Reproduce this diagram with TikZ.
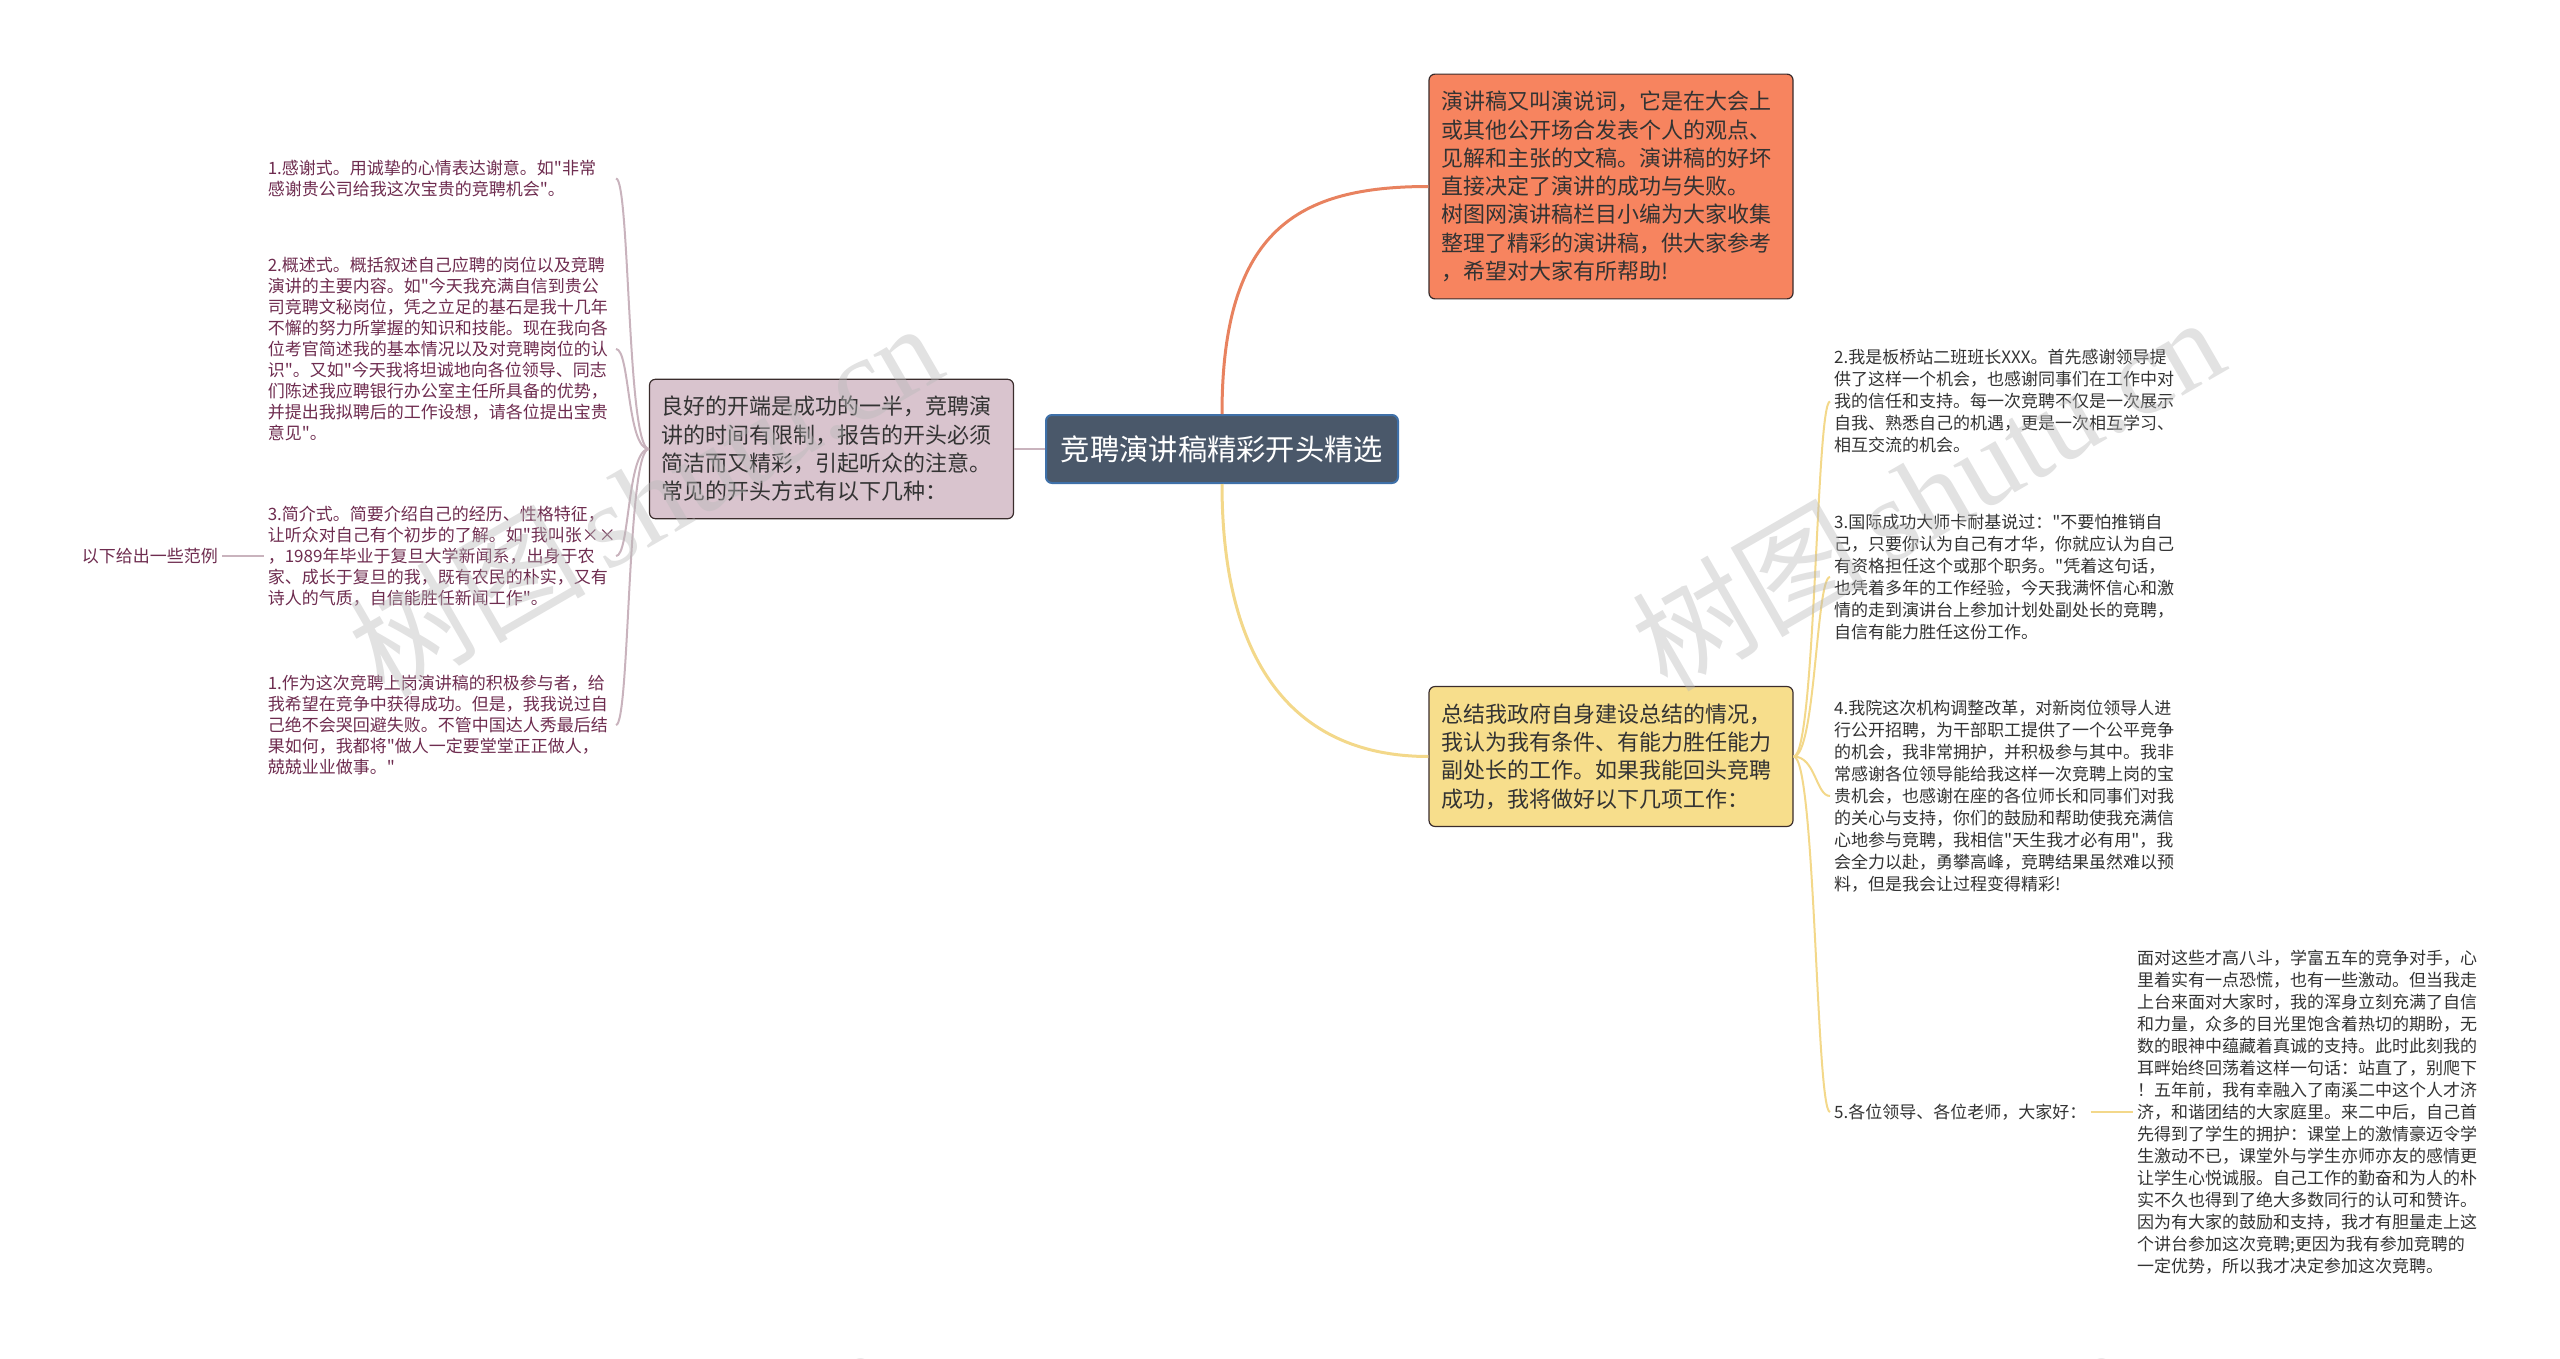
\documentclass[tikz,border=0pt]{standalone}
\usepackage{fontspec}
\newfontfamily\cjkfont{Noto Sans CJK SC}
\newfontfamily\wmlatin{Liberation Serif}
\usetikzlibrary{calc}
\definecolor{rootfill}{HTML}{4A586A}
\definecolor{rootline}{HTML}{3F70A8}
\definecolor{orangefill}{HTML}{F7845F}
\definecolor{orangeline}{HTML}{E8825F}
\definecolor{pinkfill}{HTML}{D9C4CE}
\definecolor{pinkline}{HTML}{C9B3BD}
\definecolor{yellowfill}{HTML}{F7DE8C}
\definecolor{yellowline}{HTML}{F3D88A}
\definecolor{topicedge}{HTML}{3A2C2C}
\definecolor{leafpink}{HTML}{6E2C4F}
\definecolor{leafgrey}{HTML}{333333}

\begin{document}
\begin{tikzpicture}[x=1pt,y=-1pt,
    roottopic/.style={draw=rootline,line width=2pt,fill=rootfill,rounded corners=6pt,
      text=white,font=\cjkfont\fontsize{29.3}{35}\selectfont,minimum width=352pt,minimum height=68pt},
    maintopic/.style={draw=topicedge,line width=1.2pt,fill=#1,rounded corners=6pt,
      text=black!80,align=left,text width=340pt,inner xsep=12pt,inner ysep=17pt,
      font=\cjkfont\fontsize{22}{28.3}\selectfont},
    leaf/.style={align=left,inner sep=4pt,text=#1},
    leftleaf/.style={leaf=leafpink,text width=344pt,anchor=east,font=\cjkfont\fontsize{17}{21}\selectfont},
    rightleaf/.style={leaf=leafgrey,text width=344pt,anchor=west,font=\cjkfont\fontsize{17}{22}\selectfont},
    branch/.style={draw=#1,line width=3pt},
    fan/.style={draw=#1,line width=2pt},
    watermark/.style={text=gray!55,opacity=0.42,rotate=30,font=\cjkfont\fontsize{118}{118}\selectfont}]
  \useasboundingbox (0,0) rectangle (2560,1359);

  % centre and the three main topics
  \node[roottopic] (root) at (1222,449) {竞聘演讲稿精彩开头精选};
  \node[maintopic=orangefill] (intro) at (1611,186.5) {演讲稿又叫演说词，它是在大会上\\或其他公开场合发表个人的观点、\\见解和主张的文稿。演讲稿的好坏\\直接决定了演讲的成功与失败。\\树图网演讲稿栏目小编为大家收集\\整理了精彩的演讲稿，供大家参考\\，希望对大家有所帮助!};
  \node[maintopic=pinkfill] (opening) at (831.5,449) {良好的开端是成功的一半，竞聘演\\讲的时间有限制，报告的开头必须\\简洁而又精彩，引起听众的注意。\\常见的开头方式有以下几种：};
  \node[maintopic=yellowfill] (summary) at (1611,756.5) {总结我政府自身建设总结的情况，\\我认为我有条件、有能力胜任能力\\副处长的工作。如果我能回头竞聘\\成功，我将做好以下几项工作：};

  % left branch
  \node[leftleaf] (thanks) at (616,178.5) {1.感谢式。用诚挚的心情表达谢意。如"非常\\感谢贵公司给我这次宝贵的竞聘机会"。};
  \node[leftleaf] (outline) at (616,349) {2.概述式。概括叙述自己应聘的岗位以及竞聘\\演讲的主要内容。如"今天我充满自信到贵公\\司竞聘文秘岗位，凭之立足的基石是我十几年\\不懈的努力所掌握的知识和技能。现在我向各\\位考官简述我的基本情况以及对竞聘岗位的认\\识"。又如"今天我将坦诚地向各位领导、同志\\们陈述我应聘银行办公室主任所具备的优势，\\并提出我拟聘后的工作设想，请各位提出宝贵\\意见"。};
  \node[leftleaf] (profile) at (616,556) {3.简介式。简要介绍自己的经历、性格特征，\\让听众对自己有个初步的了解。如"我叫张××\\，1989年毕业于复旦大学新闻系，出身于农\\家、成长于复旦的我，既有农民的朴实，又有\\诗人的气质，自信能胜任新闻工作"。};
  \node[leftleaf] (attitude) at (616,725) {1.作为这次竞聘上岗演讲稿的积极参与者，给\\我希望在竞争中获得成功。但是，我我说过自\\己绝不会哭回避失败。不管中国达人秀最后结\\果如何，我都将"做人一定要堂堂正正做人，\\兢兢业业做事。"};
  \node[leaf=leafpink,anchor=east,font=\cjkfont\fontsize{17}{21}\selectfont] (examples) at (222,556) {以下给出一些范例};

  % right branch
  \node[rightleaf] (monitor) at (1830,401.5) {2.我是板桥站二班班长XXX。首先感谢领导提\\供了这样一个机会，也感谢同事们在工作中对\\我的信任和支持。每一次竞聘不仅是一次展示\\自我、熟悉自己的机遇，更是一次相互学习、\\相互交流的机会。};
  \node[rightleaf] (carnegie) at (1830,577) {3.国际成功大师卡耐基说过："不要怕推销自\\己，只要你认为自己有才华，你就应认为自己\\有资格担任这个或那个职务。"凭着这句话，\\也凭着多年的工作经验，今天我满怀信心和激\\情的走到演讲台上参加计划处副处长的竞聘，\\自信有能力胜任这份工作。};
  \node[rightleaf] (reform) at (1830,796) {4.我院这次机构调整改革，对新岗位领导人进\\行公开招聘，为干部职工提供了一个公平竞争\\的机会，我非常拥护，并积极参与其中。我非\\常感谢各位领导能给我这样一次竞聘上岗的宝\\贵机会，也感谢在座的各位师长和同事们对我\\的关心与支持，你们的鼓励和帮助使我充满信\\心地参与竞聘，我相信"天生我才必有用"，我\\会全力以赴，勇攀高峰，竞聘结果虽然难以预\\料，但是我会让过程变得精彩!};
  \node[leaf=leafgrey,anchor=west,font=\cjkfont\fontsize{17}{22}\selectfont] (greeting) at (1830,1112) {5.各位领导、各位老师，大家好：};
  \node[rightleaf] (speech) at (2133,1112) {面对这些才高八斗，学富五车的竞争对手，心\\里着实有一点恐慌，也有一些激动。但当我走\\上台来面对大家时，我的浑身立刻充满了自信\\和力量，众多的目光里饱含着热切的期盼，无\\数的眼神中蕴藏着真诚的支持。此时此刻我的\\耳畔始终回荡着这样一句话：站直了，别爬下\\！五年前，我有幸融入了南溪二中这个人才济\\济，和谐团结的大家庭里。来二中后，自己首\\先得到了学生的拥护：课堂上的激情豪迈令学\\生激动不已，课堂外与学生亦师亦友的感情更\\让学生心悦诚服。自己工作的勤奋和为人的朴\\实不久也得到了绝大多数同行的认可和赞许。\\因为有大家的鼓励和支持，我才有胆量走上这\\个讲台参加这次竞聘;更因为我有参加竞聘的\\一定优势，所以我才决定参加这次竞聘。};

  % connectors
  \draw[branch=orangeline] (root.north) .. controls +(0,-185) and +(-130,0) .. (intro.west);
  \draw[branch=yellowline] (root.south) .. controls +(0,185) and +(-130,0) .. (summary.west);
  \draw[fan=pinkline] (root.west) -- (opening.east);
  \foreach \leafname in {thanks,outline,profile,attitude}
    \draw[fan=pinkline] (opening.west) .. controls +(-22,0) and +(14,0) .. (\leafname.east);
  \draw[fan=pinkline] (profile.west) -- (examples.east);
  \foreach \leafname in {monitor,carnegie,reform,greeting}
    \draw[fan=yellowline] (summary.east) .. controls +(22,0) and +(-14,0) .. (\leafname.west);
  \draw[fan=yellowline] (greeting.east) -- (speech.west);

  % watermarks
  \begin{scope}
    \clip (0,0) rectangle (2560,1359);
    \node[watermark] (wm1) at (645,498) {树图\,{\wmlatin shutu.cn}};
    \node[watermark] (wm2) at (1927,492) {树图\,{\wmlatin shutu.cn}};
    \node[watermark] (wm3) at (596,1522) {树图\,{\wmlatin shutu.cn}};
    \node[watermark] (wm4) at (1837,1522) {树图\,{\wmlatin shutu.cn}};
  \end{scope}
\end{tikzpicture}
\end{document}
